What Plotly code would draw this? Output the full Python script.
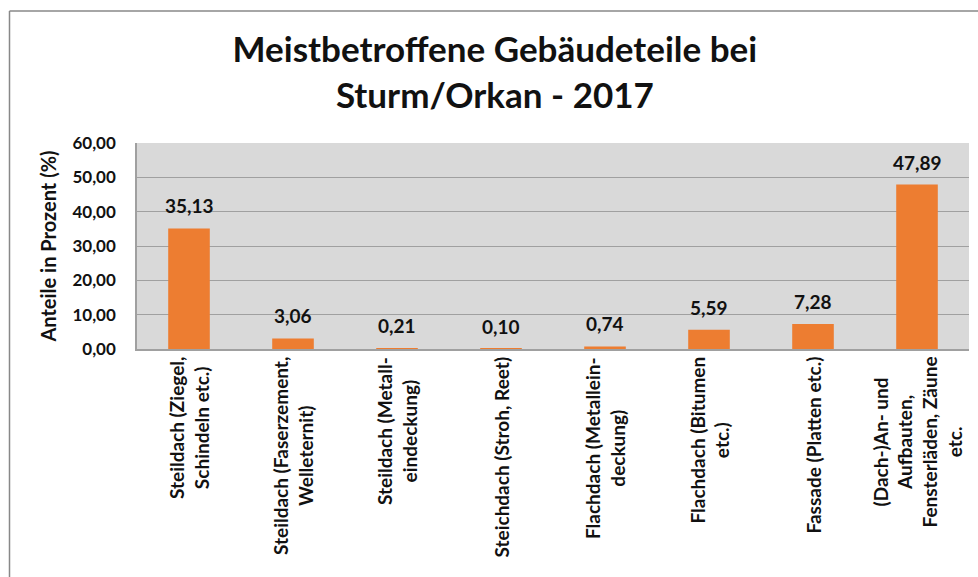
import plotly.graph_objects as go

# Categories (x labels, line breaks as drawn) and shares in percent
categories = [
    "Steildach (Ziegel,<br>Schindeln etc.)",
    "Steildach (Faserzement,<br>Welleternit)",
    "Steildach (Metall-<br>eindeckung)",
    "Steichdach (Stroh, Reet)",
    "Flachdach (Metallein-<br>deckung)",
    "Flachdach (Bitumen<br>etc.)",
    "Fassade (Platten etc.)",
    "(Dach-)An- und<br>Aufbauten,<br>Fensterläden, Zäune<br>etc.",
]
values = [35.13, 3.06, 0.21, 0.10, 0.74, 5.59, 7.28, 47.89]
y_ticks = [0, 10, 20, 30, 40, 50, 60]

FONT = "Lato"
W, H = 978, 577
M_L, M_R, M_T, M_B = 137, 9, 143, 228
PW, PH = W - M_L - M_R, H - M_T - M_B

idx = list(range(len(categories)))

fig = go.Figure(
    go.Bar(
        x=idx,
        y=values,
        width=0.4,
        marker=dict(color="#ED7D31", line=dict(width=0)),
        hoverinfo="skip",
    )
)

# value labels above the bars
for i, v in zip(idx, values):
    fig.add_annotation(
        x=i, y=v, xref="x", yref="y",
        text=f"{v:.2f}".replace(".", ","),
        showarrow=False, yanchor="bottom", yshift=9,
        font=dict(family=FONT, size=19, color="#111111", weight="bold"),
    )

# rotated category labels below the axis
for i, c in zip(idx, categories):
    fig.add_annotation(
        x=i, y=-6 / PH, xref="x", yref="paper",
        text=c, textangle=-90, align="center",
        showarrow=False, xanchor="center", yanchor="top",
        font=dict(family=FONT, size=19, color="#111111", weight="bold"),
    )

# outer frame (top and left edges)
fx = (9.5 - M_L) / PW
fy = (H - M_B - 11) / PH
fig.add_shape(type="line", xref="paper", yref="paper",
              x0=fx, y0=-5, x1=fx, y1=fy, line=dict(color="#888888", width=1.5))
fig.add_shape(type="line", xref="paper", yref="paper",
              x0=fx, y0=fy, x1=5, y1=fy, line=dict(color="#888888", width=1.5))

fig.update_layout(
    width=W, height=H,
    margin=dict(l=M_L, r=M_R, t=M_T, b=M_B, autoexpand=False),
    paper_bgcolor="white",
    plot_bgcolor="#D9D9D9",
    separators=",.",
    showlegend=False,
    bargap=0.6,
    title=dict(
        text="Meistbetroffene Gebäudeteile bei<br>Sturm/Orkan - 2017",
        x=0.506, xanchor="center", y=1 - 62 / H, yanchor="middle",
        font=dict(family=FONT, size=35, color="#111111", weight="bold"),
    ),
    xaxis=dict(
        range=[-0.5, len(categories) - 0.5],
        showticklabels=False, ticks="",
        showgrid=False, zeroline=False,
        showline=True, linecolor="#A0A0A0", linewidth=1.5,
        layer="above traces",
        fixedrange=True,
    ),
    yaxis=dict(
        range=[0, 60],
        tickvals=y_ticks, tickformat=".2f",
        tickfont=dict(family=FONT, size=17, color="#111111", weight="bold"),
        ticklabelstandoff=16,
        showgrid=True, gridcolor="#A0A0A0", gridwidth=1.2,
        zeroline=False,
        showline=True, linecolor="#A0A0A0", linewidth=1.5,
        title=dict(text="Anteile in Prozent (%)", standoff=10,
                   font=dict(family=FONT, size=20, color="#111111", weight="bold")),
        fixedrange=True,
    ),
)

fig.write_html("out.html")
